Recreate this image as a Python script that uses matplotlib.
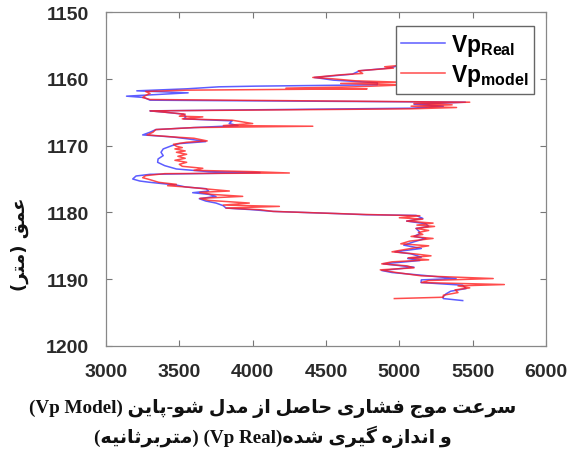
import matplotlib
matplotlib.use("Agg")
import matplotlib.pyplot as plt

# ---------------- data ----------------
depth_real = [1158.0, 1158.4, 1158.8, 1159.3, 1159.8, 1160.2, 1160.6, 1160.9, 1161.1, 1161.2,
              1161.5, 1161.8, 1162.1, 1162.6, 1162.8, 1163.2, 1163.5, 1163.8, 1164.1, 1164.4,
              1164.8, 1165.0, 1165.3, 1165.7, 1166.0, 1166.3, 1166.7, 1167.0, 1167.3, 1167.6,
              1168.0, 1168.4, 1168.7, 1169.0, 1169.4, 1169.7, 1170.0, 1170.5, 1171.0, 1171.5,
              1172.0, 1172.5, 1173.0, 1173.5, 1173.9, 1174.05, 1174.3, 1174.55, 1175.0, 1175.3,
              1175.5, 1175.9, 1176.2, 1176.45, 1176.8, 1177.05, 1177.3, 1177.6, 1177.95, 1178.3,
              1178.6, 1179.0, 1179.35, 1179.6, 1179.85, 1180.2, 1180.35, 1180.45, 1180.9, 1181.3,
              1181.7, 1182.1, 1182.4, 1182.9, 1183.2, 1183.6, 1183.9, 1184.4, 1184.9, 1185.4,
              1185.9, 1186.2, 1186.7, 1186.9, 1187.2, 1187.7, 1188.2, 1188.7, 1189.0, 1189.5,
              1189.9, 1190.1, 1190.5, 1190.9, 1191.4, 1191.8, 1192.2, 1192.7, 1192.9, 1193.2]
vp_real = [5000, 4930, 4730, 4680, 4420, 4550, 4850, 4850, 4020, 3770,
           3550, 3210, 3560, 3140, 3260, 3300, 5450, 5100, 5300, 5080,
           3300, 3400, 3530, 3545, 3530, 3860, 3840, 3900, 3600, 3340,
           3300, 3250, 3450, 3560, 3680, 3500, 3450, 3390, 3375, 3390,
           3355, 3352, 3400, 3480, 3700, 4050, 3300, 3205, 3182, 3230,
           3300, 3477, 3545, 3682, 3700, 3591, 3700, 3750, 3636, 3680,
           3750, 3800, 3818, 4000, 4136, 4600, 4773, 5114, 5160, 5050,
           5180, 5200, 5114, 5137, 5137, 5100, 5180, 5100, 5030, 5150,
           4970, 5080, 5150, 5057, 5140, 4890, 5100, 4880, 4950, 5200,
           5387, 5150, 5148, 5432, 5455, 5350, 5318, 5296, 5300, 5432]

depth_model = [1158.0, 1158.2, 1158.4, 1158.8, 1159.2, 1159.4, 1159.8, 1160.0, 1160.3, 1160.5,
               1160.7, 1160.9, 1161.2, 1161.4, 1161.5, 1161.7, 1161.9, 1162.2, 1162.5, 1162.8,
               1163.1, 1163.5, 1163.7, 1163.9, 1164.1, 1164.3, 1164.5, 1164.8, 1165.1, 1165.3,
               1165.6, 1165.7, 1166.0, 1166.2, 1166.7, 1167.0, 1167.1, 1167.3, 1167.6, 1168.0,
               1168.4, 1168.7, 1168.9, 1169.3, 1169.5, 1169.8, 1170.1, 1170.3, 1170.5, 1170.8,
               1171.0, 1171.3, 1171.6, 1171.9, 1172.2, 1172.5, 1172.8, 1173.1, 1173.4, 1173.7,
               1173.9, 1174.1, 1174.2, 1174.5, 1174.8, 1175.1, 1175.5, 1175.8, 1176.0, 1176.2,
               1176.5, 1176.8, 1177.0, 1177.3, 1177.6, 1177.9, 1178.2, 1178.6, 1178.9, 1179.1,
               1179.35, 1179.6, 1179.85, 1180.3, 1180.5, 1180.8, 1181.0, 1181.3, 1181.6, 1181.9,
               1182.1, 1182.4, 1182.7, 1183.0, 1183.3, 1183.6, 1183.9, 1184.3, 1184.7, 1185.0,
               1185.4, 1185.7, 1185.9, 1186.2, 1186.5, 1186.8, 1187.1, 1187.4, 1187.7, 1188.0,
               1188.3, 1188.6, 1189.0, 1189.5, 1189.9, 1190.2, 1190.5, 1190.8, 1191.0, 1191.3,
               1191.6, 1192.0, 1192.4, 1192.7, 1192.9]
vp_model = [5000, 4900, 4960, 4720, 4750, 4600, 4410, 4545, 4700, 5000,
            4600, 5050, 4700, 4227, 4780, 3550, 3270, 3300, 3270, 3250,
            3300, 5480, 5100, 5360, 5080, 5390, 5070, 3300, 3450, 3540,
            3500, 3660, 3520, 3860, 4000, 3800, 4410, 3600, 3340, 3320,
            3280, 3455, 3600, 3690, 3550, 3460, 3480, 3520, 3470, 3540,
            3480, 3550, 3490, 3540, 3470, 3550, 3500, 3520, 3660, 3600,
            4000, 4250, 3400, 3270, 3250, 3300, 3360, 3480, 3420, 3550,
            3690, 3841, 3640, 3720, 3932, 3640, 3700, 3977, 3800, 4182,
            3818, 4050, 4140, 4750, 5140, 5000, 5160, 5050, 5230, 5120,
            5240, 5114, 5200, 5130, 5160, 5080, 5230, 5070, 5010, 5200,
            5080, 5000, 4950, 5100, 5216, 5060, 5200, 4950, 4880, 5050,
            5100, 4870, 4980, 5150, 5640, 5200, 5150, 5716, 5400, 5480,
            5380, 5400, 5300, 5300, 4966]

x_ticks = [3000, 3500, 4000, 4500, 5000, 5500, 6000]
y_ticks = [1150, 1160, 1170, 1180, 1190, 1200]

# ---------------- minimal Arabic/Persian shaping ----------------
FORMS = {
    'ا': ('\uFE8D', '\uFE8E', None, None),
    'ب': ('\uFE8F', '\uFE90', '\uFE91', '\uFE92'),
    'پ': ('\uFB56', '\uFB57', '\uFB58', '\uFB59'),
    'ت': ('\uFE95', '\uFE96', '\uFE97', '\uFE98'),
    'ث': ('\uFE99', '\uFE9A', '\uFE9B', '\uFE9C'),
    'ج': ('\uFE9D', '\uFE9E', '\uFE9F', '\uFEA0'),
    'ح': ('\uFEA1', '\uFEA2', '\uFEA3', '\uFEA4'),
    'د': ('\uFEA9', '\uFEAA', None, None),
    'ر': ('\uFEAD', '\uFEAE', None, None),
    'ز': ('\uFEAF', '\uFEB0', None, None),
    'س': ('\uFEB1', '\uFEB2', '\uFEB3', '\uFEB4'),
    'ش': ('\uFEB5', '\uFEB6', '\uFEB7', '\uFEB8'),
    'ص': ('\uFEB9', '\uFEBA', '\uFEBB', '\uFEBC'),
    'ع': ('\uFEC9', '\uFECA', '\uFECB', '\uFECC'),
    'ف': ('\uFED1', '\uFED2', '\uFED3', '\uFED4'),
    'ق': ('\uFED5', '\uFED6', '\uFED7', '\uFED8'),
    'گ': ('\uFB92', '\uFB93', '\uFB94', '\uFB95'),
    'ل': ('\uFEDD', '\uFEDE', '\uFEDF', '\uFEE0'),
    'م': ('\uFEE1', '\uFEE2', '\uFEE3', '\uFEE4'),
    'ن': ('\uFEE5', '\uFEE6', '\uFEE7', '\uFEE8'),
    'ه': ('\uFEE9', '\uFEEA', '\uFEEB', '\uFEEC'),
    'و': ('\uFEED', '\uFEEE', None, None),
    'ی': ('\uFBFC', '\uFBFD', '\uFBFE', '\uFBFF'),
}


def shape(text):
    out = []
    n = len(text)
    for i, c in enumerate(text):
        if c not in FORMS:
            out.append(c)
            continue
        prev = text[i - 1] if i > 0 else None
        nxt = text[i + 1] if i + 1 < n else None
        jp = prev in FORMS and FORMS[prev][2] is not None
        jn = nxt in FORMS and FORMS[c][2] is not None
        iso, fin, ini, med = FORMS[c]
        if jp and jn:
            out.append(med)
        elif jp:
            out.append(fin)
        elif jn:
            out.append(ini)
        else:
            out.append(iso)
    return ''.join(out)


def rtl(text):
    return shape(text)[::-1]


ylabel_txt = "(" + rtl("متر") + ") " + rtl("عمق")
xlabel_line1 = "(Vp Model) " + rtl("سرعت موج فشاری حاصل از مدل شو-پاین")
xlabel_line2 = "(" + rtl("متربرثانیه") + ") (Vp Real)" + rtl("و اندازه گیری شده")

# ---------------- plotting ----------------
plt.rcParams['mathtext.fontset'] = 'custom'
plt.rcParams['mathtext.rm'] = 'Liberation Sans:bold'
plt.rcParams['mathtext.bf'] = 'Liberation Sans:bold'
plt.rcParams['mathtext.it'] = 'Liberation Sans:bold'

fig = plt.figure(figsize=(5.75, 4.56), dpi=100)
ax = fig.add_axes([106 / 575, 1 - 347 / 456, 440 / 575, 334 / 456])

ax.plot(vp_real, depth_real, color=(0.25, 0.25, 1.0), lw=1.1, alpha=0.85,
        label=r'$\mathbf{Vp_{Real}}$')
ax.plot(vp_model, depth_model, color=(1.0, 0.12, 0.12), lw=1.1, alpha=0.8,
        label=r'$\mathbf{Vp_{model}}$')

ax.set_xlim(3000, 6000)
ax.set_ylim(1200, 1150)
ax.set_xticks(x_ticks)
ax.set_yticks(y_ticks)
ax.tick_params(direction='in', length=4, width=0.8, color='#777777',
               top=True, right=True, labelsize=14, labelcolor='#2a2a2a', pad=12)
for lab in ax.get_xticklabels() + ax.get_yticklabels():
    lab.set_fontfamily('Liberation Sans')
    lab.set_fontweight('bold')
for s in ax.spines.values():
    s.set_color('#888888')
    s.set_linewidth(0.9)

leg = ax.legend(loc='upper right', bbox_to_anchor=(534 / 575, 1 - 27 / 456),
                bbox_transform=fig.transFigure, borderaxespad=0, fontsize=16.5,
                handlelength=1.9, handletextpad=0.25, borderpad=0.25, labelspacing=0.2,
                fancybox=False, framealpha=1)
leg.get_frame().set_edgecolor('#666666')
leg.get_frame().set_linewidth(1.0)

fig.text(20 / 575, 1 - 244 / 456, ylabel_txt, rotation=90, ha='center', va='center',
         fontsize=13, fontweight='bold', family=['DejaVu Sans'], color='#111111')
fig.text(273 / 575, 1 - 409 / 456, xlabel_line1, ha='center', va='center',
         fontsize=13.8, fontweight='bold', family=['Liberation Serif', 'DejaVu Sans'],
         color='#111111')
fig.text(273 / 575, 1 - 437 / 456, xlabel_line2, ha='center', va='center',
         fontsize=13.8, fontweight='bold', family=['Liberation Serif', 'DejaVu Sans'],
         color='#111111')

fig.savefig('out.png', dpi=100)
